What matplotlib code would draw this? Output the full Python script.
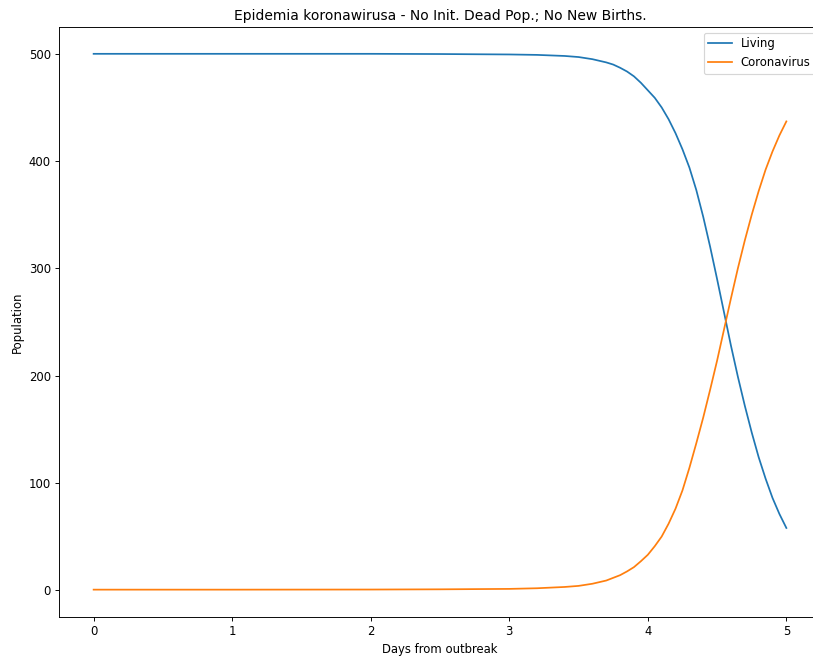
import matplotlib
matplotlib.use("Agg")
import matplotlib.pyplot as plt

days = [0.0, 1.0, 2.0, 2.5, 3.0, 3.2, 3.4, 3.5, 3.6, 3.7, 3.75, 3.8, 3.85, 3.9, 3.95, 4.0,
        4.05, 4.1, 4.15, 4.2, 4.25, 4.3, 4.35, 4.4, 4.45, 4.5, 4.55, 4.6, 4.65, 4.7,
        4.75, 4.8, 4.85, 4.9, 4.95, 5.0]
living = [500, 500, 500, 499.8, 499.4, 499, 498, 497, 495, 492, 490, 487, 483.5, 479, 473,
          466, 459, 450, 439, 426, 411, 394, 373, 348, 320, 290, 259, 228, 199, 172,
          147, 124, 104, 86, 71, 58]
corona = [0.5, 0.5, 0.6, 0.8, 1.2, 1.8, 3, 4, 6, 9, 11.5, 14, 17.5, 21.5, 27, 33, 41, 50,
          62, 76, 93, 114, 137, 161, 187, 214, 243, 272, 300, 326, 350, 372, 392, 409,
          424, 437]

s = 0.835
plt.rcParams.update({
    "font.size": 10 * s,
    "lines.linewidth": 1.5 * s,
    "axes.linewidth": 0.8 * s,
    "xtick.major.size": 3.5 * s,
    "ytick.major.size": 3.5 * s,
    "xtick.major.width": 0.8 * s,
    "ytick.major.width": 0.8 * s,
    "xtick.major.pad": 3.5 * s,
    "ytick.major.pad": 3.5 * s,
    "axes.titlepad": 6 * s,
    "axes.labelpad": 4 * s,
    "patch.linewidth": 1.0 * s,
})

fig = plt.figure(figsize=(8.13, 6.59), dpi=100)
ax = fig.add_axes([59/813, 42/659, 762/813, 590/659])
ax.plot(days, living, label="Living", color="#1f77b4")
ax.plot(days, corona, label="Coronavirus", color="#ff7f0e")
ax.set_xlim(-0.25, 5.25)
ax.set_ylim(-25, 525)
ax.set_title("Epidemia koronawirusa - No Init. Dead Pop.; No New Births.", fontsize=12 * s)
ax.set_xlabel("Days from outbreak")
ax.set_ylabel("Population")
ax.legend(loc="upper right", fontsize=10 * s)
fig.savefig("out.png", dpi=100)
